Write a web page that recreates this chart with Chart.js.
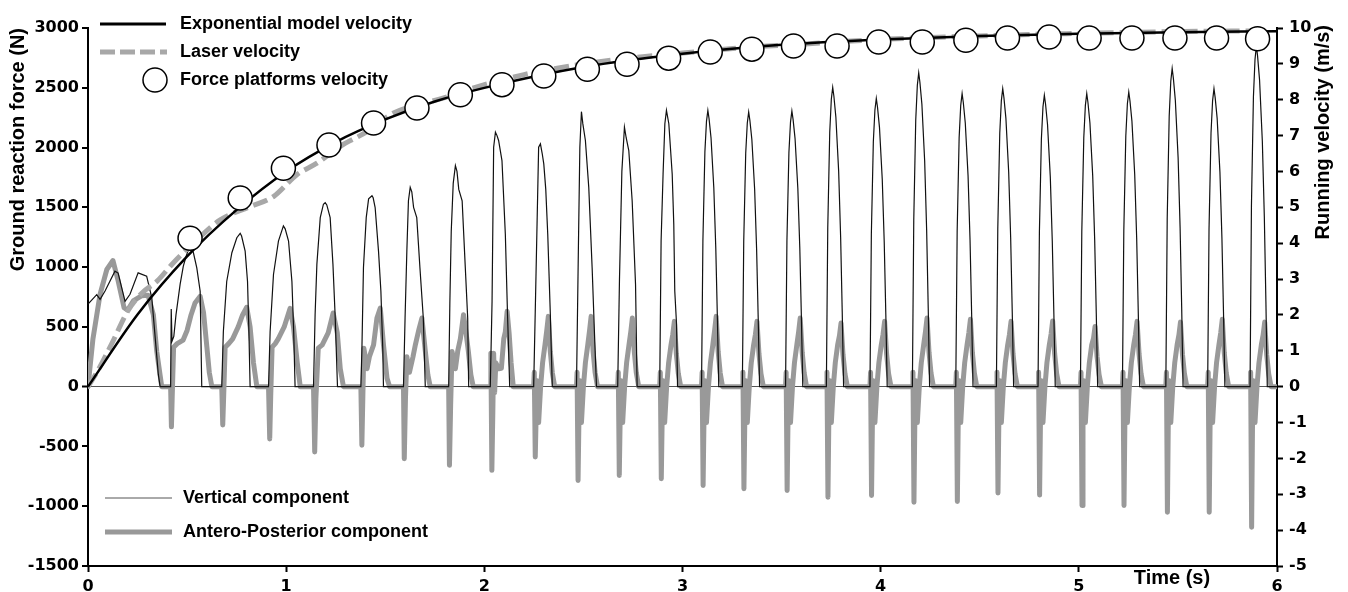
<!DOCTYPE html>
<html>
<head>
<meta charset="utf-8">
<script src="https://cdn.jsdelivr.net/npm/chart.js@4.4.1/dist/chart.umd.min.js"></script>
<style>
  html, body { margin: 0; padding: 0; background: #fff; }
  #wrap { width: 1348px; height: 592px; position: relative; }
</style>
</head>
<body>
<div id="wrap"><canvas id="c"></canvas></div>
<script>
// ---------- DATA ----------
const xTicks = [0, 1, 2, 3, 4, 5, 6];
const forceTicks = [-1500, -1000, -500, 0, 500, 1000, 1500, 2000, 2500, 3000];
const velocityTicks = [-5, -4, -3, -2, -1, 0, 1, 2, 3, 4, 5, 6, 7, 8, 9, 10];

const topLegendLabels = ['Exponential model velocity', 'Laser velocity', 'Force platforms velocity'];
const bottomLegendLabels = ['Vertical component', 'Antero-Posterior component'];
const leftTitle = 'Ground reaction force (N)';
const rightTitle = 'Running velocity (m/s)';
const xTitle = 'Time (s)';

// Exponential model velocity (m/s)
const modelTime = [0, 0.25, 0.5, 0.75, 1, 1.25, 1.5, 1.75, 2, 2.5, 3, 3.5, 4, 4.5, 5, 5.5, 6];
const modelVel  = [0, 2.01, 3.63, 4.93, 6.0, 6.82, 7.45, 7.95, 8.33, 8.91, 9.28, 9.53, 9.68, 9.78, 9.84, 9.88, 9.91];

// Laser velocity (m/s)
const laserTime = [0, 0.05, 0.12, 0.2, 0.27, 0.35, 0.43, 0.566, 0.667, 0.818, 0.936, 1.054, 1.155, 1.273, 1.408, 1.542, 1.795, 1.946, 2.2, 2.5, 2.8, 3.0, 3.3, 3.6, 4.0, 4.5, 5.0, 5.5, 5.9];
const laserVel  = [0, 0.45, 1.2, 2.1, 2.6, 2.95, 3.45, 4.18, 4.65, 5.02, 5.30, 5.91, 6.23, 6.70, 7.11, 7.63, 8.05, 8.33, 8.7, 9.0, 9.2, 9.3, 9.45, 9.55, 9.68, 9.78, 9.85, 9.9, 9.92];

// Force platforms velocity (m/s)
const platformTime = [0.515, 0.768, 0.986, 1.216, 1.441, 1.660, 1.879, 2.089, 2.30, 2.52, 2.72, 2.93, 3.14, 3.35, 3.56, 3.78, 3.99, 4.21, 4.43, 4.64, 4.85, 5.052, 5.268, 5.485, 5.695, 5.902];
const platformVel  = [4.14, 5.26, 6.09, 6.74, 7.35, 7.77, 8.14, 8.42, 8.66, 8.85, 8.99, 9.16, 9.33, 9.41, 9.50, 9.50, 9.61, 9.61, 9.66, 9.72, 9.75, 9.72, 9.72, 9.72, 9.72, 9.70];

// Vertical ground reaction force [time s, force N]
const verticalForce = [
  [0,690],[0.044,770],[0.061,730],[0.086,800],[0.136,966],[0.152,950],[0.187,714],[0.212,773],[0.253,952],[0.296,924],[0.322,742],[0.355,100],[0.364,0],
  [0.417,0],[0.420,650],[0.424,380],[0.433,420],[0.444,600],[0.465,857],[0.481,1008],[0.497,1100],[0.515,1180],[0.532,1120],[0.549,994],[0.566,798],[0.574,0],
  [0.675,0],[0.683,460],[0.700,880],[0.726,1120],[0.751,1246],[0.768,1283],[0.775,1260],[0.793,1134],[0.805,880],[0.812,460],[0.818,0],
  [0.911,0],[0.919,460],[0.936,938],[0.961,1218],[0.986,1345],[0.995,1320],[1.012,1218],[1.029,880],[1.038,460],[1.045,0],
  [1.138,0],[1.146,600],[1.155,1025],[1.172,1414],[1.188,1526],[1.197,1540],[1.205,1520],[1.222,1414],[1.236,1025],[1.247,600],[1.259,0],
  [1.377,0],[1.382,294],[1.390,994],[1.404,1414],[1.416,1571],[1.433,1597],[1.439,1580],[1.449,1498],[1.466,1134],[1.478,798],[1.488,294],[1.491,0],
  [1.592,0],[1.600,574],[1.609,1134],[1.617,1555],[1.626,1667],[1.634,1630],[1.643,1500],[1.659,1414],[1.675,994],[1.692,574],[1.702,0],
  [1.820,0],[1.826,700],[1.833,1300],[1.843,1700],[1.854,1849],[1.862,1800],[1.871,1650],[1.888,1555],[1.904,994],[1.916,574],[1.921,0],
  [2.030,0],[2.039,714],[2.047,2003],[2.056,2129],[2.064,2100],[2.072,2059],[2.089,1891],[2.106,1275],[2.117,605],[2.128,0],
  [2.249,0],[2.258,714],[2.274,2003],[2.283,2031],[2.292,1950],[2.300,1863],[2.310,1650],[2.320,1275],[2.333,605],[2.343,0],
  [2.465,0],[2.475,1200],[2.482,2000],[2.490,2300],[2.497,2200],[2.510,2059],[2.527,1667],[2.544,994],[2.556,437],[2.566,0],
  [2.673,0],[2.682,900],[2.694,1800],[2.707,2171],[2.716,2080],[2.729,1975],[2.746,1555],[2.763,857],[2.771,0],
  [2.885,0],[2.892,1218],[2.902,1779],[2.911,2199],[2.919,2311],[2.931,2199],[2.948,1779],[2.956,1359],[2.961,800],[2.970,520],[2.975,0],
  [3.096,0],[3.103,1225],[3.113,1964],[3.121,2219],[3.128,2311],[3.134,2242],[3.144,2080],[3.158,1664],[3.168,1156],[3.176,578],[3.183,0],
  [3.302,0],[3.309,1217],[3.319,1952],[3.327,2205],[3.334,2297],[3.340,2228],[3.350,2067],[3.364,1654],[3.374,1149],[3.382,574],[3.389,0],
  [3.520,0],[3.527,1222],[3.537,1959],[3.545,2213],[3.552,2305],[3.558,2236],[3.568,2075],[3.582,1660],[3.592,1153],[3.600,576],[3.607,0],
  [3.726,0],[3.733,1327],[3.743,2128],[3.751,2404],[3.758,2504],[3.764,2429],[3.774,2254],[3.788,1803],[3.798,1252],[3.806,626],[3.813,0],
  [3.946,0],[3.953,1277],[3.963,2049],[3.971,2314],[3.978,2410],[3.984,2338],[3.994,2169],[4.008,1735],[4.018,1205],[4.026,603],[4.033,0],
  [4.160,0],[4.167,1391],[4.177,2231],[4.185,2520],[4.192,2625],[4.198,2546],[4.208,2363],[4.222,1890],[4.232,1313],[4.240,656],[4.247,0],
  [4.379,0],[4.386,1299],[4.396,2083],[4.404,2353],[4.411,2451],[4.417,2377],[4.427,2206],[4.441,1765],[4.451,1226],[4.459,613],[4.466,0],
  [4.584,0],[4.591,1321],[4.601,2119],[4.609,2393],[4.616,2493],[4.622,2418],[4.632,2244],[4.646,1795],[4.656,1247],[4.664,623],[4.671,0],
  [4.794,0],[4.801,1292],[4.811,2071],[4.819,2340],[4.826,2437],[4.832,2364],[4.842,2193],[4.856,1755],[4.866,1219],[4.874,609],[4.881,0],
  [5.008,0],[5.015,1299],[5.025,2083],[5.033,2353],[5.040,2451],[5.046,2377],[5.056,2206],[5.070,1765],[5.080,1226],[5.088,613],[5.095,0],
  [5.220,0],[5.227,1306],[5.237,2095],[5.245,2366],[5.252,2465],[5.258,2391],[5.268,2219],[5.282,1775],[5.292,1233],[5.300,616],[5.307,0],
  [5.439,0],[5.446,1410],[5.456,2262],[5.464,2555],[5.471,2661],[5.477,2581],[5.487,2395],[5.501,1916],[5.511,1331],[5.519,665],[5.526,0],
  [5.650,0],[5.657,1321],[5.667,2119],[5.675,2393],[5.682,2493],[5.688,2418],[5.698,2244],[5.712,1795],[5.722,1247],[5.730,623],[5.737,0],
  [5.864,0],[5.871,1511],[5.881,2423],[5.889,2736],[5.896,2850],[5.902,2765],[5.912,2565],[5.926,2052],[5.936,1425],[5.944,713],[5.951,0],
  [6.0,0]
];

// Antero-posterior ground reaction force [time s, force N]
const apForce = [
  [0,0],[0.025,400],[0.061,773],[0.095,980],[0.126,1055],[0.150,900],[0.182,660],[0.200,640],[0.230,720],[0.270,760],[0.303,765],[0.330,600],[0.347,294],[0.372,0],
  [0.417,0],[0.421,-336],[0.425,-80],[0.432,330],[0.450,360],[0.480,390],[0.500,470],[0.520,600],[0.540,700],[0.566,756],[0.583,620],[0.600,330],[0.612,120],[0.625,0],
  [0.675,0],[0.680,-320],[0.685,-60],[0.692,330],[0.710,360],[0.730,400],[0.758,500],[0.780,600],[0.801,664],[0.818,500],[0.835,200],[0.852,0],
  [0.911,0],[0.917,-437],[0.922,-80],[0.929,330],[0.945,360],[0.960,400],[0.990,500],[1.020,655],[1.037,500],[1.056,200],[1.071,0],
  [1.138,0],[1.144,-546],[1.150,-100],[1.162,322],[1.182,350],[1.212,450],[1.237,616],[1.258,450],[1.273,150],[1.289,0],
  [1.377,0],[1.382,-490],[1.387,-80],[1.392,322],[1.399,250],[1.408,150],[1.420,250],[1.441,350],[1.458,574],[1.475,658],[1.491,350],[1.509,70],[1.522,0],
  [1.592,0],[1.596,-602],[1.602,-100],[1.609,250],[1.622,120],[1.640,250],[1.652,350],[1.670,480],[1.685,574],[1.702,300],[1.715,100],[1.727,0],
  [1.820,0],[1.824,-658],[1.830,-150],[1.837,294],[1.854,150],[1.866,300],[1.879,400],[1.895,602],[1.910,420],[1.919,300],[1.932,100],[1.944,0],
  [2.030,0],[2.033,280],[2.038,-700],[2.043,-200],[2.047,280],[2.052,-50],[2.058,200],[2.072,150],[2.086,154],[2.098,400],[2.106,460],[2.115,630],[2.125,450],[2.135,200],[2.146,0],
  [2.249,0],[2.252,120],[2.257,-588],[2.262,-200],[2.267,50],[2.274,-300],[2.284,0],[2.294,200],[2.306,350],[2.315,470],[2.323,588],[2.333,294],[2.343,118],[2.355,0],
  [2.465,0],[2.468,120],[2.473,-784],[2.478,-200],[2.483,50],[2.490,-300],[2.500,0],[2.510,200],[2.522,350],[2.531,470],[2.539,588],[2.549,294],[2.559,118],[2.571,0],
  [2.673,0],[2.676,120],[2.681,-742],[2.686,-200],[2.691,50],[2.698,-300],[2.708,0],[2.718,200],[2.730,350],[2.739,459],[2.747,574],[2.757,287],[2.767,115],[2.779,0],
  [2.885,0],[2.888,120],[2.893,-770],[2.898,-200],[2.903,50],[2.910,-300],[2.920,0],[2.930,200],[2.942,350],[2.951,437],[2.959,546],[2.969,273],[2.979,109],[2.991,0],
  [3.096,0],[3.099,120],[3.104,-826],[3.109,-200],[3.114,50],[3.121,-300],[3.131,0],[3.141,200],[3.153,350],[3.162,470],[3.170,588],[3.180,294],[3.190,118],[3.202,0],
  [3.302,0],[3.305,120],[3.310,-854],[3.315,-200],[3.320,50],[3.327,-300],[3.337,0],[3.347,200],[3.359,350],[3.368,437],[3.376,546],[3.386,273],[3.396,109],[3.408,0],
  [3.520,0],[3.523,120],[3.528,-868],[3.533,-200],[3.538,50],[3.545,-300],[3.555,0],[3.565,200],[3.577,350],[3.586,459],[3.594,574],[3.604,287],[3.614,115],[3.626,0],
  [3.726,0],[3.729,120],[3.734,-924],[3.739,-200],[3.744,50],[3.751,-300],[3.761,0],[3.771,200],[3.783,350],[3.792,426],[3.800,532],[3.810,266],[3.820,106],[3.832,0],
  [3.946,0],[3.949,120],[3.954,-910],[3.959,-200],[3.964,50],[3.971,-300],[3.981,0],[3.991,200],[4.003,350],[4.012,437],[4.020,546],[4.030,273],[4.040,109],[4.052,0],
  [4.160,0],[4.163,120],[4.168,-966],[4.173,-200],[4.178,50],[4.185,-300],[4.195,0],[4.205,200],[4.217,350],[4.226,459],[4.234,574],[4.244,287],[4.254,115],[4.266,0],
  [4.379,0],[4.382,120],[4.387,-960],[4.392,-200],[4.397,50],[4.404,-300],[4.414,0],[4.424,200],[4.436,350],[4.445,450],[4.453,563],[4.463,281],[4.473,113],[4.485,0],
  [4.584,0],[4.587,120],[4.592,-890],[4.597,-200],[4.602,50],[4.609,-300],[4.619,0],[4.629,200],[4.641,350],[4.650,437],[4.658,546],[4.668,273],[4.678,109],[4.690,0],
  [4.794,0],[4.797,120],[4.802,-907],[4.807,-200],[4.812,50],[4.819,-300],[4.829,0],[4.839,200],[4.851,350],[4.860,440],[4.868,550],[4.878,275],[4.888,110],[4.900,0],
  [5.008,0],[5.011,120],[5.016,-994],[5.021,-200],[5.026,50],[5.033,-300],[5.043,0],[5.053,200],[5.065,350],[5.074,403],[5.082,504],[5.092,252],[5.102,101],[5.114,0],
  [5.220,0],[5.223,120],[5.228,-994],[5.233,-200],[5.238,50],[5.245,-300],[5.255,0],[5.265,200],[5.277,350],[5.286,437],[5.294,546],[5.304,273],[5.314,109],[5.326,0],
  [5.439,0],[5.442,120],[5.447,-1050],[5.452,-200],[5.457,50],[5.464,-300],[5.474,0],[5.484,200],[5.496,350],[5.505,432],[5.513,540],[5.523,270],[5.533,108],[5.545,0],
  [5.650,0],[5.653,120],[5.658,-1050],[5.663,-200],[5.668,50],[5.675,-300],[5.685,0],[5.695,200],[5.707,350],[5.716,450],[5.724,563],[5.734,281],[5.744,113],[5.756,0],
  [5.864,0],[5.867,120],[5.872,-1176],[5.877,-200],[5.882,50],[5.889,-300],[5.899,0],[5.909,200],[5.921,350],[5.930,432],[5.938,540],[5.948,270],[5.958,108],[5.970,0],
  [6.0,0]
];

// ---------- STYLE ----------
const BLACK = '#000000';
const AP_GRAY = '#999999';
const LASER_GRAY = '#a8a8a8';
const LABEL_FONT = '"Liberation Sans", Arial, Helvetica, sans-serif';
const TICK_FONT = { family: '"DejaVu Sans", sans-serif', size: 16, weight: 'bold' };

const pairs = arr => arr.map(p => ({ x: p[0], y: p[1] }));
const zip = (xs, ys) => xs.map((x, i) => ({ x: x, y: ys[i] }));
const plain = v => String(v);

const overlay = {
  id: 'overlay',
  afterDraw(chart) {
    const { ctx, chartArea: a, scales } = chart;
    ctx.save();
    ctx.fillStyle = BLACK;
    ctx.textBaseline = 'middle';
    ctx.textAlign = 'left';
    ctx.font = 'bold 18px ' + LABEL_FONT;

    // top legend
    const lx0 = a.left + 12, lx1 = a.left + 78, tx = a.left + 92;
    const r1 = a.top - 4, r2 = a.top + 24, r3 = a.top + 52;
    ctx.strokeStyle = BLACK; ctx.lineWidth = 3; ctx.setLineDash([]);
    ctx.beginPath(); ctx.moveTo(lx0, r1); ctx.lineTo(lx1, r1); ctx.stroke();
    ctx.fillText(topLegendLabels[0], tx, r1);
    ctx.strokeStyle = LASER_GRAY; ctx.lineWidth = 5; ctx.setLineDash([15, 5]);
    ctx.beginPath(); ctx.moveTo(lx0, r2); ctx.lineTo(lx1 + 1, r2); ctx.stroke();
    ctx.setLineDash([]);
    ctx.fillText(topLegendLabels[1], tx, r2);
    ctx.beginPath(); ctx.arc(a.left + 67, r3, 12, 0, Math.PI * 2);
    ctx.fillStyle = '#fff'; ctx.fill();
    ctx.strokeStyle = BLACK; ctx.lineWidth = 1.5; ctx.stroke();
    ctx.fillStyle = BLACK;
    ctx.fillText(topLegendLabels[2], tx, r3);

    // bottom legend
    const bx0 = a.left + 17, bx1 = a.left + 84, btx = a.left + 95;
    const b1 = a.bottom - 68, b2 = a.bottom - 34;
    ctx.strokeStyle = '#555'; ctx.lineWidth = 1;
    ctx.beginPath(); ctx.moveTo(bx0, b1); ctx.lineTo(bx1, b1); ctx.stroke();
    ctx.fillText(bottomLegendLabels[0], btx, b1);
    ctx.strokeStyle = AP_GRAY; ctx.lineWidth = 5;
    ctx.beginPath(); ctx.moveTo(bx0, b2); ctx.lineTo(bx1, b2); ctx.stroke();
    ctx.fillText(bottomLegendLabels[1], btx, b2);

    // x axis title near the right end
    ctx.font = 'bold 20px ' + LABEL_FONT;
    ctx.textAlign = 'center';
    ctx.fillText(xTitle, scales.x.getPixelForValue(5.47), a.bottom + 12);

    // right axis title (reads bottom to top)
    ctx.save();
    ctx.translate(scales.y1.right - 25, a.top - 3);
    ctx.rotate(-Math.PI / 2);
    ctx.textAlign = 'right';
    ctx.fillText(rightTitle, 0, 0);
    ctx.restore();

    ctx.restore();
  }
};

new Chart(document.getElementById('c'), {
  type: 'line',
  data: {
    datasets: [
      {
        label: topLegendLabels[2],
        data: zip(platformTime, platformVel),
        yAxisID: 'y1',
        showLine: false,
        pointRadius: 12,
        pointHoverRadius: 12,
        pointBackgroundColor: '#ffffff',
        pointBorderColor: BLACK,
        pointBorderWidth: 1.5,
        clip: false,
        order: 0
      },
      {
        label: topLegendLabels[0],
        data: zip(modelTime, modelVel),
        yAxisID: 'y1',
        borderColor: BLACK,
        borderWidth: 2.5,
        pointRadius: 0,
        cubicInterpolationMode: 'monotone',
        order: 1
      },
      {
        label: topLegendLabels[1],
        data: zip(laserTime, laserVel),
        yAxisID: 'y1',
        borderColor: LASER_GRAY,
        borderWidth: 5,
        borderDash: [15, 6],
        pointRadius: 0,
        cubicInterpolationMode: 'monotone',
        order: 2
      },
      {
        label: bottomLegendLabels[0],
        data: pairs(verticalForce),
        yAxisID: 'y',
        borderColor: '#111111',
        borderWidth: 1.2,
        pointRadius: 0,
        tension: 0,
        order: 3
      },
      {
        label: bottomLegendLabels[1],
        data: pairs(apForce),
        yAxisID: 'y',
        borderColor: AP_GRAY,
        borderWidth: 5,
        pointRadius: 0,
        tension: 0,
        borderJoinStyle: 'round',
        borderCapStyle: 'round',
        order: 4
      }
    ]
  },
  options: {
    responsive: true,
    maintainAspectRatio: false,
    devicePixelRatio: 1,
    animation: false,
    events: [],
    layout: { padding: { top: 28, left: 0, right: 0, bottom: 0 } },
    plugins: { legend: { display: false }, tooltip: { enabled: false }, title: { display: false } },
    scales: {
      x: {
        type: 'linear',
        min: xTicks[0],
        max: xTicks[xTicks.length - 1],
        afterBuildTicks: s => { s.ticks = xTicks.map(v => ({ value: v })); },
        ticks: { font: TICK_FONT, color: BLACK, padding: 5, maxRotation: 0, autoSkip: false, callback: plain },
        grid: { drawOnChartArea: false, drawTicks: true, tickLength: 6, tickColor: BLACK, tickWidth: 2 },
        border: { display: true, color: BLACK, width: 2 },
        afterFit: s => { s.height = 26; }
      },
      y: {
        type: 'linear',
        position: 'left',
        min: forceTicks[0],
        max: forceTicks[forceTicks.length - 1],
        afterBuildTicks: s => { s.ticks = forceTicks.map(v => ({ value: v })); },
        ticks: { font: TICK_FONT, color: BLACK, padding: 3, autoSkip: false, callback: plain },
        grid: {
          drawOnChartArea: true,
          drawTicks: true,
          tickLength: 6,
          tickColor: BLACK,
          tickWidth: 2,
          color: c => (c.tick && c.tick.value === 0) ? '#555555' : 'rgba(0,0,0,0)',
          lineWidth: c => (c.tick && c.tick.value === 0) ? 1 : 0
        },
        border: { display: true, color: BLACK, width: 2 },
        title: {
          display: true,
          text: leftTitle,
          align: 'end',
          color: BLACK,
          font: { family: LABEL_FONT, size: 20, weight: 'bold' },
          padding: { top: 6, bottom: 0 }
        },
        afterFit: s => { s.width = 88; }
      },
      y1: {
        type: 'linear',
        position: 'right',
        min: velocityTicks[0],
        max: velocityTicks[velocityTicks.length - 1],
        afterBuildTicks: s => { s.ticks = velocityTicks.map(v => ({ value: v })); },
        ticks: { font: TICK_FONT, color: BLACK, padding: 6, autoSkip: false, callback: plain },
        grid: { drawOnChartArea: false, drawTicks: true, tickLength: 6, tickColor: BLACK, tickWidth: 2 },
        border: { display: true, color: BLACK, width: 2 },
        afterFit: s => { s.width = 71; }
      }
    }
  },
  plugins: [overlay]
});
</script>
</body>
</html>
